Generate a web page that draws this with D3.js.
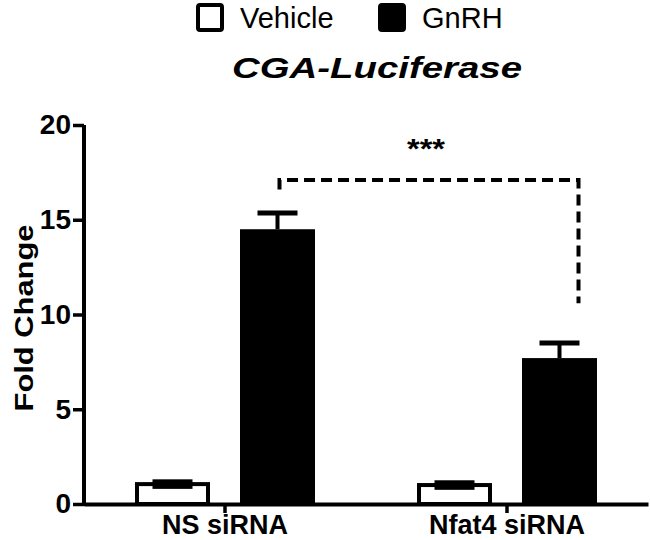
<!DOCTYPE html>
<html>
<head>
    <meta charset="utf-8">
    <title>CGA-Luciferase</title>
    <style>
        body { margin: 0; background: #fff; }
        text { font-family: "Liberation Sans", Arial, sans-serif; fill: #000; }
    </style>
</head>
<body>
    <script src="https://cdn.jsdelivr.net/npm/d3@7"></script>
    <script>

        // data
        var groups = ["NS siRNA", "Nfat4 siRNA"];
        var series = ["Vehicle", "GnRH"];
        var vehicleMean = [1.05, 1.0];
        var vehicleSem = [0.12, 0.12];
        var gnrhMean = [14.5, 7.7];
        var gnrhSem = [0.85, 0.8];
        var yTicks = [0, 5, 10, 15, 20];
        var bracket = { from: 0, to: 1, top: 17.1, leftEnd: 16.6, rightEnd: 10.6, label: "***" };

        var width = 650,
            height = 540;

        var svg = d3.select("body").append("svg")
            .attr("width", width)
            .attr("height", height);

        var y = d3.scaleLinear().domain([0, 20]).range([504, 125]);

        var x0 = d3.scaleBand().domain(groups).range([84, 648]);
        var x1 = d3.scaleBand().domain(series).range([0, 180]).paddingInner(2 - 180 / 105);
        var off = (x0.bandwidth() - 180) / 2;

        var rows = [];
        groups.forEach(function (g, i) {
            rows.push({ group: g, key: "Vehicle", mean: vehicleMean[i], sem: vehicleSem[i] });
            rows.push({ group: g, key: "GnRH", mean: gnrhMean[i], sem: gnrhSem[i] });
        });

        function cx(d) {
            return x0(d.group) + off + x1(d.key) + x1.bandwidth() / 2;
        }

        // error bars for GnRH (upper half only, bar hides the rest)
        var eb = svg.append("g").attr("stroke", "#000").attr("stroke-width", 4);
        rows.filter(function (d) { return d.key == "GnRH"; }).forEach(function (d) {
            eb.append("line")
                .attr("x1", cx(d)).attr("x2", cx(d))
                .attr("y1", y(d.mean)).attr("y2", y(d.mean + d.sem));
            eb.append("line")
                .attr("x1", cx(d) - 20).attr("x2", cx(d) + 20)
                .attr("y1", y(d.mean + d.sem)).attr("y2", y(d.mean + d.sem))
                .attr("stroke-width", 5);
        });

        // bars
        svg.append("g").selectAll("rect")
            .data(rows)
            .enter().append("rect")
            .attr("x", function (d) { return x0(d.group) + off + x1(d.key) + (d.key == "Vehicle" ? 2 : 0); })
            .attr("width", function (d) { return x1.bandwidth() - (d.key == "Vehicle" ? 4 : 0); })
            .attr("y", function (d) { return y(d.mean); })
            .attr("height", function (d) { return y(0) - y(d.mean); })
            .attr("fill", function (d) { return d.key == "GnRH" ? "#000" : "none"; })
            .attr("stroke", function (d) { return d.key == "GnRH" ? "none" : "#000"; })
            .attr("stroke-width", 4);

        // vehicle error bars sit on the bar top
        svg.append("g").selectAll("rect")
            .data(rows.filter(function (d) { return d.key == "Vehicle"; }))
            .enter().append("rect")
            .attr("x", function (d) { return cx(d) - 20; })
            .attr("width", 40)
            .attr("y", function (d) { return y(d.mean + d.sem) - 2.5; })
            .attr("height", function (d) { return y(d.mean - d.sem) - y(d.mean + d.sem) + 5; })
            .attr("fill", "#000");

        // y axis
        var yAxis = svg.append("g")
            .attr("transform", "translate(84,0)")
            .call(d3.axisLeft(y).tickValues(yTicks).tickSize(11).tickPadding(2).tickSizeOuter(0));
        yAxis.select(".domain").attr("stroke-width", 4).attr("d", "M0," + y(20) + "V" + (y(0) + 2));
        yAxis.selectAll(".tick line").attr("stroke-width", 3.5);
        yAxis.selectAll(".tick text")
            .style("font-size", "28px")
            .style("font-weight", "bold")
            .attr("font-family", null);

        // x axis
        var xAxis = svg.append("g")
            .attr("transform", "translate(0," + y(0) + ")")
            .call(d3.axisBottom(x0).tickSize(9).tickPadding(2).tickSizeOuter(0));
        xAxis.select(".domain").attr("stroke-width", 4);
        xAxis.selectAll(".tick line").attr("stroke-width", 3.5);
        xAxis.selectAll(".tick text")
            .style("font-size", "27px")
            .style("font-weight", "bold")
            .attr("font-family", null);

        // y title
        svg.append("text")
            .attr("transform", "translate(33,318) rotate(-90)")
            .attr("text-anchor", "middle")
            .attr("textLength", 187)
            .attr("lengthAdjust", "spacingAndGlyphs")
            .style("font-size", "26px")
            .style("font-weight", "bold")
            .text("Fold Change");

        // title
        svg.append("text")
            .attr("x", 377)
            .attr("y", 78)
            .attr("text-anchor", "middle")
            .attr("textLength", 290)
            .attr("lengthAdjust", "spacingAndGlyphs")
            .style("font-size", "30px")
            .style("font-weight", "bold")
            .style("font-style", "italic")
            .text("CGA-Luciferase");

        // legend
        var legX = [196, 378];
        series.forEach(function (s, i) {
            var g = svg.append("g").attr("transform", "translate(" + legX[i] + ",3)");
            g.append("rect")
                .attr("x", 2).attr("y", 2)
                .attr("width", 24).attr("height", 25)
                .attr("rx", 2)
                .attr("fill", s == "GnRH" ? "#000" : "#fff")
                .attr("stroke", "#000").attr("stroke-width", 4);
            g.append("text")
                .attr("x", 44)
                .attr("y", 25)
                .style("font-size", "29px")
                .text(s);
        });

        // significance bracket
        var bx1 = x0(groups[bracket.from]) + off + x1("GnRH") + x1.bandwidth() / 2 + 2;
        var bx2 = x0(groups[bracket.to]) + off + x1("GnRH") + x1.bandwidth() / 2 + 19;
        svg.append("path")
            .attr("d", "M" + bx1 + "," + y(bracket.leftEnd) + "V" + y(bracket.top) + "H" + bx2 + "V" + y(bracket.rightEnd))
            .attr("fill", "none")
            .attr("stroke", "#000")
            .attr("stroke-width", 4)
            .attr("stroke-dasharray", "11,6");
        svg.append("text")
            .attr("x", 426)
            .attr("y", 158)
            .attr("text-anchor", "middle")
            .attr("textLength", 38)
            .attr("lengthAdjust", "spacingAndGlyphs")
            .style("font-size", "28px")
            .style("font-weight", "bold")
            .text(bracket.label);

    </script>
</body>
</html>
